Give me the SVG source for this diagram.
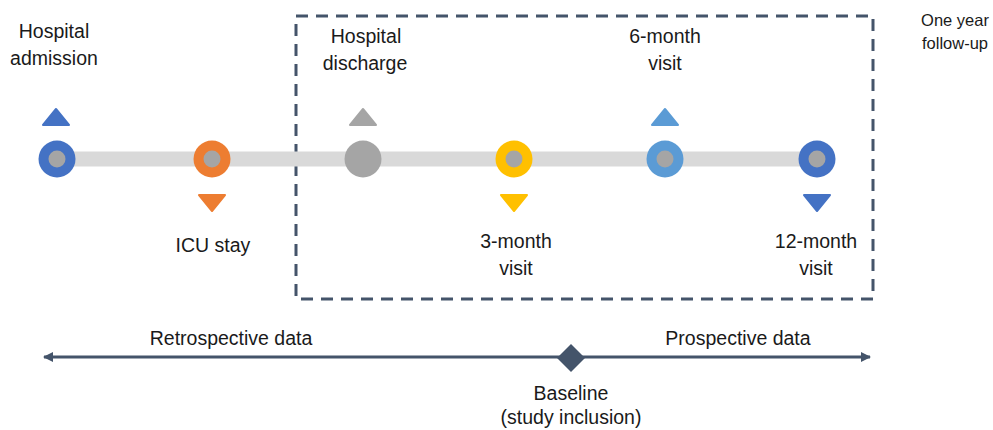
<svg xmlns="http://www.w3.org/2000/svg" width="993" height="430" viewBox="0 0 993 430">
<defs>
<style>
text{font-family:"Liberation Sans",Arial,sans-serif;font-size:19.5px;fill:#1a1a1a;text-anchor:middle}
.small{font-size:16.5px}
.ring{stroke-width:0}
.core{fill:#A5A5A5}
.tri{stroke-width:2;stroke-linejoin:round}
</style>
<marker id="ah" viewBox="0 0 10 10" refX="9" refY="5" markerWidth="10" markerHeight="10" markerUnits="userSpaceOnUse" orient="auto-start-reverse">
<path d="M0,0 L10,5 L0,10 Z" fill="#44546A"/>
</marker>
</defs>
<rect width="993" height="430" fill="#fff"/>

<g id="follow-up-box">
<rect x="296" y="16" width="577" height="283" fill="none" stroke="#44546A" stroke-width="3" stroke-dasharray="12,8"/>
<text class="small" x="955" y="26">One year</text>
<text class="small" x="955" y="49">follow-up</text>
</g>

<g id="connectors">
<line x1="57" y1="159" x2="817" y2="159" stroke="#D9D9D9" stroke-width="15"/>
<line x1="44" y1="357" x2="870" y2="357" stroke="#44546A" stroke-width="3" marker-start="url(#ah)" marker-end="url(#ah)"/>
</g>

<g id="hospital-admission">
<polygon class="tri" points="56,109 69,125 43,125" fill="#4472C4" stroke="#4472C4"/>
<circle cx="57" cy="159" r="18.5" fill="#4472C4"/>
<circle class="core" cx="57" cy="159" r="8.5"/>
<text x="54" y="38">Hospital</text>
<text x="54" y="65">admission</text>
</g>

<g id="icu-stay">
<circle cx="212" cy="159" r="18.5" fill="#ED7D31"/>
<circle class="core" cx="212" cy="159" r="8.5"/>
<polygon class="tri" points="199,195 225,195 212,211" fill="#ED7D31" stroke="#ED7D31"/>
<text x="213" y="252">ICU stay</text>
</g>

<g id="hospital-discharge">
<polygon class="tri" points="363,109 376,125 350,125" fill="#A5A5A5" stroke="#A5A5A5"/>
<circle cx="363" cy="159" r="18.5" fill="#A5A5A5"/>
<text x="366" y="43">Hospital</text>
<text x="365" y="70">discharge</text>
</g>

<g id="three-month-visit">
<circle cx="514" cy="159" r="18.5" fill="#FFC000"/>
<circle class="core" cx="514" cy="159" r="8.5"/>
<polygon class="tri" points="501,195 527,195 514,211" fill="#FFC000" stroke="#FFC000"/>
<text x="516" y="248">3-month</text>
<text x="516" y="275">visit</text>
</g>

<g id="six-month-visit">
<polygon class="tri" points="665,109 678,125 652,125" fill="#5B9BD5" stroke="#5B9BD5"/>
<circle cx="665" cy="159" r="18.5" fill="#5B9BD5"/>
<circle class="core" cx="665" cy="159" r="8.5"/>
<text x="665" y="43">6-month</text>
<text x="665" y="70">visit</text>
</g>

<g id="twelve-month-visit">
<circle cx="817" cy="159" r="18.5" fill="#4472C4"/>
<circle class="core" cx="817" cy="159" r="8.5"/>
<polygon class="tri" points="804,195 830,195 817,211" fill="#4472C4" stroke="#4472C4"/>
<text x="816" y="248">12-month</text>
<text x="816" y="275">visit</text>
</g>

<g id="retrospective-data">
<text x="231" y="345">Retrospective data</text>
</g>

<g id="prospective-data">
<text x="738" y="345">Prospective data</text>
</g>

<g id="baseline">
<polygon points="571,344 585,358 571,372 557,358" fill="#44546A"/>
<text x="571" y="400">Baseline</text>
<text x="571" y="424">(study inclusion)</text>
</g>
</svg>
